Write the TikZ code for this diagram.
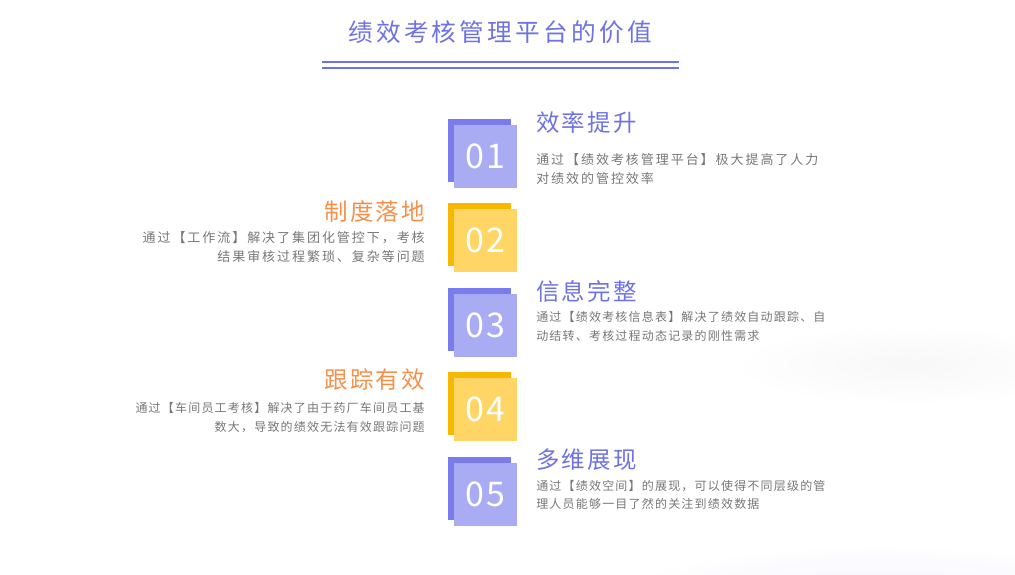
\documentclass[tikz,border=0pt]{standalone}
\usepackage{fontspec}
\setmainfont{Noto Sans CJK SC}
\newfontfamily\titlefont[LetterSpace=13]{Noto Sans CJK SC}
\newfontfamily\headfont[LetterSpace=9]{Noto Sans CJK SC}
\newfontfamily\bodyfont[LetterSpace=10]{Noto Sans CJK SC}
\newfontfamily\widefont[LetterSpace=15]{Noto Sans CJK SC}
\newfontfamily\numfont[LetterSpace=8]{Noto Sans CJK SC}
\usepackage{tikz}
\usetikzlibrary{positioning}

\definecolor{titleblue}{HTML}{6E72E3}
\definecolor{darkblue}{HTML}{7A7BEC}
\definecolor{lightblue}{HTML}{AAACF3}
\definecolor{darkyellow}{HTML}{F8B700}
\definecolor{lightyellow}{HTML}{FFD666}
\definecolor{headorange}{HTML}{F5904A}
\definecolor{bodygray}{HTML}{777777}

\tikzset{
	backbox/.style={rectangle, minimum size=63*0.75pt, inner sep=0pt},
	frontbox/.style={rectangle, minimum size=63*0.75pt, inner sep=0pt, text=white, font=\numfont\fontsize{25.5pt}{25.5pt}\selectfont},
	headR/.style={anchor=west, inner sep=0pt, text=titleblue, font=\headfont\fontsize{17.6pt}{17.6pt}\selectfont},
	headL/.style={anchor=east, inner sep=0pt, text=headorange, font=\headfont\fontsize{17.6pt}{17.6pt}\selectfont},
	bodyR/.style={inner sep=0pt, align=left, text=bodygray, font=\bodyfont\fontsize{9pt}{14pt}\selectfont},
	bodyL/.style={inner sep=0pt, align=right, text=bodygray, font=\bodyfont\fontsize{9pt}{14pt}\selectfont},
	wide/.style={font=\widefont\fontsize{9.75pt}{14.6pt}\selectfont}
}

\begin{document}
\begin{tikzpicture}[x=0.75pt, y=-0.75pt]
	\useasboundingbox (0,0) rectangle (1015,575);
	% Background haze
	\shade[inner color=black!3, outer color=white] (910,365) ellipse (180 and 40);
	\shade[inner color=blue!5, outer color=white] (880,595) ellipse (260 and 50);
	
	% Title
	\node [text=titleblue, font=\titlefont\fontsize{18.5pt}{18.5pt}\selectfont] (title) at (500,32) {绩效考核管理平台的价值};
	\coordinate (lineA) at (322,62);
	\coordinate (lineB) at (679,62);
	\draw [titleblue, line width=2.2pt] (lineA) -- (lineB);
	\draw [titleblue, line width=2.2pt] ([yshift=-6*0.75pt]lineA) -- ([yshift=-6*0.75pt]lineB);
	
	% Place boxes
	\node [backbox, fill=darkblue] (back1) at (479.5,150.5) {};
	\node [frontbox, fill=lightblue] (num1) at (485.5,156) {01};
	\node [backbox, fill=darkyellow] (back2) at (479.5,234.5) {};
	\node [frontbox, fill=lightyellow] (num2) at (485.5,240) {02};
	\node [backbox, fill=darkblue] (back3) at (479.5,319.5) {};
	\node [frontbox, fill=lightblue] (num3) at (485.5,325) {03};
	\node [backbox, fill=darkyellow] (back4) at (479.5,403.5) {};
	\node [frontbox, fill=lightyellow] (num4) at (485.5,409) {04};
	\node [backbox, fill=darkblue] (back5) at (479.5,488.5) {};
	\node [frontbox, fill=lightblue] (num5) at (485.5,494) {05};
	
	% Right texts
	\node [headR] (head1) at (536,123) {效率提升};
	\node [bodyR, wide, below right=14pt and 0pt of head1.south west] (body1) {通过【绩效考核管理平台】极大提高了人力\\对绩效的管控效率};
	\node [headR] (head3) at (536,291) {信息完整};
	\node [bodyR, below right=6.5pt and 0pt of head3.south west] (body3) {通过【绩效考核信息表】解决了绩效自动跟踪、自\\动结转、考核过程动态记录的刚性需求};
	\node [headR] (head5) at (536,460) {多维展现};
	\node [bodyR, below right=6.5pt and 0pt of head5.south west] (body5) {通过【绩效空间】的展现，可以使得不同层级的管\\理人员能够一目了然的关注到绩效数据};
	
	% Left texts
	\node [headL] (head2) at (425,212) {制度落地};
	\node [bodyL, wide, below left=6pt and 0pt of head2.south east] (body2) {通过【工作流】解决了集团化管控下，考核\\结果审核过程繁琐、复杂等问题};
	\node [headL] (head4) at (425,380) {跟踪有效};
	\node [bodyL, below left=8.5pt and 0pt of head4.south east] (body4) {通过【车间员工考核】解决了由于药厂车间员工基\\数大，导致的绩效无法有效跟踪问题};
\end{tikzpicture}
\end{document}
